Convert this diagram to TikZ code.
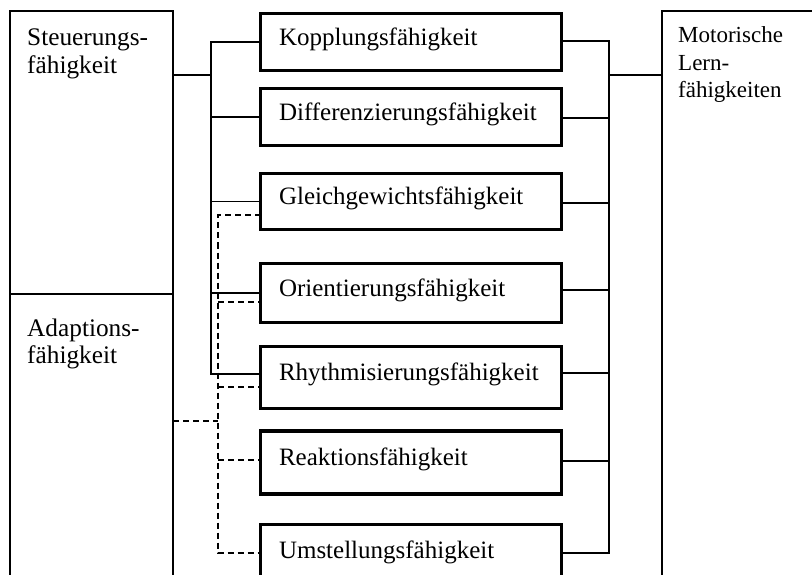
\documentclass[tikz,border=0pt]{standalone}
\usepackage{fontspec}
\setmainfont{Liberation Serif}
\begin{document}
\begin{tikzpicture}[x=1pt,y=-1pt,
  thinline/.style={line width=1.4pt},
  dashline/.style={line width=1.4pt, dash pattern=on 6pt off 4pt},
  sidebox/.style={draw, line width=1.6pt, rectangle, inner sep=0pt, outer sep=0pt, anchor=north west},
  skill/.style={draw, line width=3.2pt, rectangle, minimum width=301pt,
    text width=264pt, align=left, inner xsep=18.5pt, inner ysep=0pt, outer sep=0pt,
    font=\fontsize{25}{28}\selectfont, text height=0.82em, text depth=0.2em},
  sidelabel/.style={anchor=north west, inner sep=0pt, align=left}
]
\useasboundingbox (0,0) rectangle (812,575);
\clip (0,0) rectangle (812,575);

% side boxes
\node[sidebox, minimum width=163pt, minimum height=283pt] (steu) at (10,11) {};
\node[sidebox, minimum width=163pt, minimum height=300pt] (adap) at (10,294) {};
\node[sidebox, minimum width=200pt, minimum height=600pt] (mot) at (662,11) {};

\node[sidelabel, font=\fontsize{25.3}{28}\selectfont] (steutext) at (27,29) {Steuerungs-\\fähigkeit};
\node[sidelabel, font=\fontsize{25.3}{27}\selectfont] (adaptext) at (27,318.5) {Adaptions-\\fähigkeit};
\node[sidelabel, font=\fontsize{23}{27.5}\selectfont] (mottext) at (678,26.5) {Motorische\\Lern-\\fähigkeiten};

% central skill boxes
\node[skill, minimum height=57pt] (k)  at (411,42)    {Kopplungsfähigkeit};
\node[skill, minimum height=57pt] (d)  at (411,117)   {Differenzierungsfähigkeit};
\node[skill, minimum height=56pt] (g)  at (411,201.5) {Gleichgewichtsfähigkeit};
\node[skill, minimum height=59pt] (o)  at (411,293)   {Orientierungsfähigkeit};
\node[skill, minimum height=62pt] (r)  at (411,377.5) {Rhythmisierungsfähigkeit};
\node[skill, minimum height=63pt] (re) at (411,462.5) {Reaktionsfähigkeit};
\node[skill, minimum height=61pt] (u)  at (411,555)   {Umstellungsfähigkeit};

% bus lines
\coordinate (sol) at (211,0);
\coordinate (dsh) at (218,0);
\coordinate (rbus) at (609,0);
\coordinate (sc) at (0,75);
\coordinate (ac) at (0,421);
\coordinate (mc) at (0,75);

% solid control bus
\coordinate (rs) at ([yshift=3.5pt]r.west);
\draw[thinline] (k.west) -| (sol |- rs) -- (rs);
\draw[thinline] (sol |- d.west) -- (d.west);
\draw[thinline] (sol |- g.west) -- (g.west);
\draw[thinline] (sol |- o.west) -- (o.west);
\draw[thinline] (steu.east |- sc) -- (sol |- sc);

% dashed adaptation bus
\coordinate (gd) at ([yshift=-13.5pt]g.west);
\coordinate (od) at ([yshift=-9pt]o.west);
\coordinate (rd) at ([yshift=-9.5pt]r.west);
\coordinate (red) at ([yshift=2.5pt]re.west);
\coordinate (ud) at ([yshift=2pt]u.west);
\draw[dashline] (gd) -| (dsh |- ud) -- (ud);
\draw[dashline] (dsh |- od) -- (od);
\draw[dashline] (dsh |- rd) -- (rd);
\draw[dashline] (dsh |- red) -- (red);
\draw[dashline] (adap.east |- ac) -- (dsh |- ac);

% right bus to motor learning
\coordinate (ke) at ([yshift=1pt]k.east);
\coordinate (de) at ([yshift=-1pt]d.east);
\coordinate (ge) at ([yshift=-1.5pt]g.east);
\coordinate (oe) at ([yshift=3pt]o.east);
\coordinate (rie) at ([yshift=4.5pt]r.east);
\coordinate (ree) at ([yshift=1.5pt]re.east);
\coordinate (ue) at ([yshift=2pt]u.east);
\draw[thinline] (ke) -| (rbus |- ue) -- (ue);
\draw[thinline] (de) -- (rbus |- de);
\draw[thinline] (ge) -- (rbus |- ge);
\draw[thinline] (oe) -- (rbus |- oe);
\draw[thinline] (rie) -- (rbus |- rie);
\draw[thinline] (ree) -- (rbus |- ree);
\draw[thinline] (rbus |- mc) -- (mot.west |- mc);
\end{tikzpicture}
\end{document}
